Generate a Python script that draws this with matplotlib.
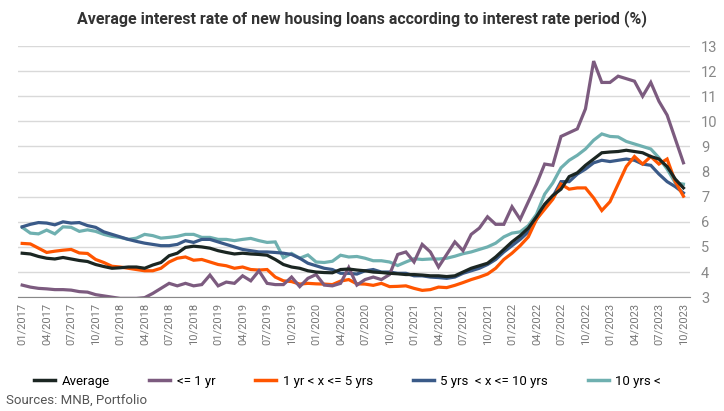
import numpy as np
import matplotlib
matplotlib.use('Agg')
import matplotlib.pyplot as plt
from matplotlib.lines import Line2D

plt.rcParams['font.family'] = ['Roboto', 'DejaVu Sans']

# monthly data, 01/2017 - 10/2023
months = ['%02d/%d' % (m, y) for y in range(2017, 2024) for m in range(1, 13)][:82]
tick_labels = months[::3]

average = [4.75,4.72,4.62,4.55,4.52,4.58,4.52,4.46,4.42,4.3,4.22,4.15,
           4.17,4.2,4.2,4.15,4.28,4.38,4.65,4.75,4.98,5.03,5.0,4.95,
           4.85,4.78,4.72,4.75,4.72,4.7,4.67,4.5,4.3,4.2,4.15,4.05,
           4.0,3.98,3.97,4.1,4.12,4.08,4.05,4.0,3.98,3.95,3.93,3.9,
           3.9,3.88,3.85,3.85,3.82,3.85,4.0,4.15,4.25,4.35,4.6,4.9,
           5.2,5.45,5.75,6.2,6.7,7.05,7.3,7.8,7.95,8.25,8.5,8.75,
           8.78,8.8,8.85,8.8,8.75,8.6,8.5,8.2,7.7,7.35]
upto_1yr = [3.48,3.4,3.35,3.33,3.3,3.3,3.28,3.22,3.2,3.1,3.05,3.0,
            2.95,2.95,2.95,2.98,3.15,3.35,3.55,3.45,3.55,3.45,3.5,3.88,
            3.45,3.6,3.55,3.85,3.65,4.05,3.55,3.5,3.5,3.8,3.42,3.75,
            3.9,3.48,3.45,3.55,4.18,3.48,3.7,3.8,3.7,3.9,4.7,4.8,
            4.4,5.1,4.8,4.2,4.7,5.2,4.85,5.5,5.75,6.2,5.9,5.9,
            6.6,6.1,6.8,7.5,8.3,8.25,9.4,9.55,9.7,10.5,12.4,11.55,
            11.55,11.8,11.7,11.6,11.0,11.55,10.8,10.25,9.3,8.35]
yr1_5 = [5.14,5.12,4.95,4.78,4.83,4.87,4.9,4.76,4.74,4.5,4.38,4.23,
         4.2,4.15,4.1,4.05,4.05,4.15,4.4,4.55,4.6,4.47,4.5,4.4,
         4.3,4.25,4.15,4.2,4.1,4.08,4.1,3.8,3.65,3.62,3.52,3.55,
         3.53,3.52,3.5,3.64,3.7,3.53,3.52,3.47,3.55,3.42,3.43,3.45,
         3.35,3.27,3.3,3.4,3.38,3.47,3.58,3.7,3.8,3.92,4.15,4.5,
         4.75,5.05,5.4,6.1,6.5,6.9,7.5,7.3,7.35,7.35,6.95,6.45,
         6.8,7.5,8.2,8.6,8.3,8.6,8.3,8.5,7.6,7.02]
yr5_10 = [5.8,5.9,5.97,5.95,5.88,6.0,5.95,5.97,5.85,5.78,5.6,5.5,
          5.4,5.3,5.22,5.15,5.1,5.05,5.05,5.1,5.25,5.18,5.3,5.3,
          5.2,5.1,5.0,4.9,4.85,4.8,4.8,4.78,4.75,4.7,4.55,4.35,
          4.25,4.15,4.1,3.95,3.95,3.92,4.05,4.1,4.0,4.0,3.95,3.95,
          3.85,3.85,3.8,3.78,3.75,3.8,3.95,4.05,4.15,4.3,4.5,4.8,
          5.05,5.3,5.6,6.1,6.6,7.0,7.6,7.6,7.9,8.1,8.35,8.45,
          8.4,8.45,8.5,8.45,8.3,8.25,7.9,7.6,7.4,7.15]
yr10_plus = [5.78,5.55,5.52,5.67,5.52,5.8,5.78,5.62,5.68,5.62,5.5,5.42,
             5.38,5.3,5.35,5.5,5.45,5.35,5.38,5.42,5.5,5.5,5.38,5.38,
             5.3,5.3,5.25,5.3,5.34,5.25,5.18,5.2,4.57,4.74,4.55,4.68,
             4.4,4.38,4.43,4.67,4.6,4.62,4.55,4.45,4.45,4.4,4.26,4.4,
             4.53,4.5,4.52,4.52,4.55,4.63,4.73,4.8,4.9,5.0,5.15,5.4,
             5.55,5.6,5.85,6.3,7.1,7.55,8.15,8.45,8.65,8.9,9.25,9.5,
             9.4,9.38,9.2,9.1,9.0,8.9,8.55,8.1,7.55,7.5]

series = [('Average', average, '#1b2622'),
          ('<= 1 yr', upto_1yr, '#7c5b7f'),
          ('1 yr < x <= 5 yrs', yr1_5, '#ff5500'),
          ('5 yrs  < x <= 10 yrs', yr5_10, '#3a5a88'),
          ('10 yrs <', yr10_plus, '#6fb0b0')]

fig = plt.figure(figsize=(7.24, 4.11), dpi=100)
ax = fig.add_axes([0.025, 0.277, 0.928, 0.611])
x = np.arange(len(months))
for name, vals, col in series[::-1]:
    ax.plot(x, vals, color=col, linewidth=2.3, solid_joinstyle='miter')

ax.set_xlim(-0.5, 81.8)
ax.set_ylim(3, 13)
ax.set_yticks(range(3, 14))
ax.yaxis.tick_right()
ax.tick_params(axis='y', length=0, labelsize=10.5, labelcolor='#888888', pad=8)
ax.set_xticks(x[::3])
ax.set_xticklabels(tick_labels, rotation=90, fontsize=8, color='#777777')
ax.tick_params(axis='x', length=0, pad=4)
ax.grid(axis='y', color='#d9d9d9', linewidth=1)
ax.set_axisbelow(True)
for s in ['top', 'left', 'right']:
    ax.spines[s].set_visible(False)
ax.spines['bottom'].set_color('#888888')

fig.text(0.5, 0.955, 'Average interest rate of new housing loans according to interest rate period (%)',
         ha='center', va='center', fontsize=11.5, fontweight='bold', color='#333333')

handles = [Line2D([0], [0], color=c, linewidth=2.5) for _, _, c in series]
fig.legend(handles, [n for n, _, _ in series], loc='center', bbox_to_anchor=(0.48, 0.072),
           ncol=5, frameon=False, fontsize=9.5, handlelength=1.6, columnspacing=3.0,
           handletextpad=0.5)
fig.text(0.008, 0.025, 'Sources: MNB, Portfolio', fontsize=9.5, color='#555555', va='center')

fig.savefig('out.png', dpi=100)
